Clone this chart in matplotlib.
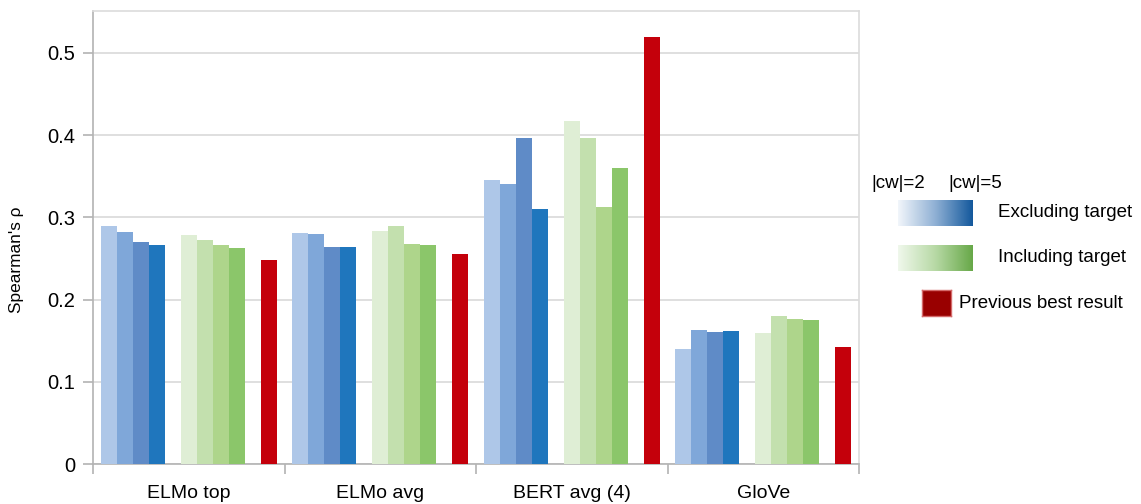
import matplotlib
matplotlib.use('Agg')
import matplotlib.pyplot as plt
import numpy as np
from matplotlib.colors import LinearSegmentedColormap

plt.rcParams['font.family'] = ['Liberation Sans', 'DejaVu Sans']

categories = ['ELMo top', 'ELMo avg', 'BERT avg (4)', 'GloVe']
# 4 context window sizes per group (|cw|=2 ... |cw|=5)
excluding = [
    [0.289, 0.282, 0.270, 0.266],
    [0.281, 0.280, 0.264, 0.264],
    [0.345, 0.340, 0.396, 0.310],
    [0.140, 0.163, 0.160, 0.162],
]
including = [
    [0.279, 0.273, 0.266, 0.263],
    [0.284, 0.290, 0.268, 0.266],
    [0.417, 0.396, 0.312, 0.360],
    [0.159, 0.180, 0.176, 0.175],
]
previous_best = [0.248, 0.255, 0.519, 0.142]

BLUES = ['#aec7e8', '#7fa7d9', '#5f8bc7', '#1f76bd']
GREENS = ['#dfeed5', '#c3e0ae', '#aed58b', '#8bc66a']
RED = '#c4000b'

fig = plt.figure(figsize=(11.41, 5.04), dpi=100)
ax = fig.add_axes([93 / 1141, 40 / 504, (859 - 93) / 1141, (464 - 11) / 504])

slots = 12
for g in range(len(categories)):
    base = g * slots
    for k in range(4):
        ax.bar(base + 1 + k, excluding[g][k], width=1.0, color=BLUES[k], edgecolor='none', zorder=3)
        ax.bar(base + 6 + k, including[g][k], width=1.0, color=GREENS[k], edgecolor='none', zorder=3)
    ax.bar(base + 11, previous_best[g], width=1.0, color=RED, edgecolor='none', zorder=3)

ax.set_xlim(0, slots * len(categories))
ax.set_ylim(0, 0.551)
ax.set_yticks([0, 0.1, 0.2, 0.3, 0.4, 0.5])
ax.set_yticklabels(['0', '0.1', '0.2', '0.3', '0.4', '0.5'], fontsize=14.5)
ax.yaxis.grid(True, color='#d9d9d9', linewidth=1.2, zorder=0)
ax.set_axisbelow(True)

ax.set_xticks([g * slots + 6 for g in range(len(categories))])
ax.set_xticklabels(categories, fontsize=14)
ax.tick_params(axis='x', which='major', length=0, pad=15)
ax.set_xticks([g * slots for g in range(len(categories) + 1)], minor=True)
ax.tick_params(axis='x', which='minor', length=7, color='#b3b3b3', width=1.2)
ax.tick_params(axis='y', length=7, color='#b3b3b3', width=1.2, pad=6)

for side in ['top', 'right']:
    ax.spines[side].set_color('#dcdcdc')
    ax.spines[side].set_linewidth(1.2)
for side in ['left', 'bottom']:
    ax.spines[side].set_color('#b3b3b3')
    ax.spines[side].set_linewidth(1.2)

fig.text(17 / 1141, 1 - 260 / 504, "Spearman's ρ", rotation=90, ha='center', va='center', fontsize=12.4)

# custom legend
W, H = 1141, 504


def fig_box(x0, y0, x1, y1):
    return [x0 / W, 1 - y1 / H, (x1 - x0) / W, (y1 - y0) / H]


grad = np.linspace(0, 1, 256).reshape(1, -1)
blue_cmap = LinearSegmentedColormap.from_list('bl', ['#f2f6fb', '#8fb0d4', '#13589c'])
green_cmap = LinearSegmentedColormap.from_list('gr', ['#f0f8ec', '#b7d9a5', '#67a848'])
for (y0, y1), cmap in [((200, 226), blue_cmap), ((245, 271), green_cmap)]:
    lax = fig.add_axes(fig_box(898, y0, 973, y1))
    lax.imshow(grad, aspect='auto', cmap=cmap)
    lax.axis('off')

rax = fig.add_axes(fig_box(922, 290, 951, 316))
rax.set_facecolor('#990000')
rax.set_xticks([])
rax.set_yticks([])
for s in rax.spines.values():
    s.set_color('#d46a6a')
    s.set_linewidth(1)

fig.text(871 / W, 1 - 184 / H, '|cw|=2', fontsize=13.5, va='center', ha='left')
fig.text(948 / W, 1 - 184 / H, '|cw|=5', fontsize=13.5, va='center', ha='left')
fig.text(998 / W, 1 - 212 / H, 'Excluding target', fontsize=13.5, va='center', ha='left')
fig.text(998 / W, 1 - 258 / H, 'Including target', fontsize=13.5, va='center', ha='left')
fig.text(959 / W, 1 - 303 / H, 'Previous best result', fontsize=13.5, va='center', ha='left')

fig.savefig('out.png', dpi=100)
